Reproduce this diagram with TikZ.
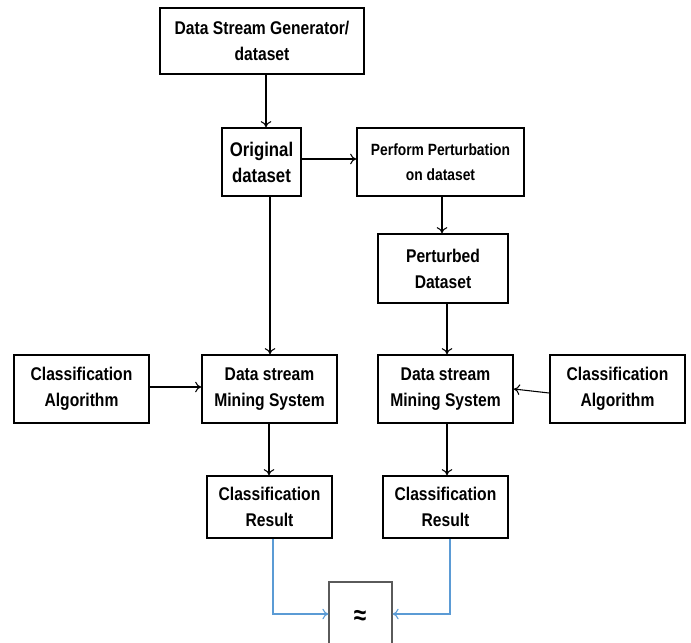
\documentclass[tikz,border=0pt]{standalone}
\usepackage{fontspec}
\setmainfont{Liberation Sans}[FakeStretch=0.85]
\usetikzlibrary{arrows.meta}
\definecolor{linkblue}{RGB}{91,155,213}
\definecolor{boxgray}{RGB}{90,90,90}
\tikzset{
  box/.style={draw=black, line width=1.3pt, fill=white, inner sep=0pt, align=center,
    font=\fontsize{13.8}{19.5}\selectfont\bfseries},
  arr/.style={draw=black, line width=0.8pt, -{To[length=4.5pt,width=8pt]}},
  bluearr/.style={draw=linkblue, line width=0.8pt, -{To[length=4.5pt,width=8pt]}},
}
\begin{document}
\begin{tikzpicture}[x=0.75pt,y=-0.75pt]
\useasboundingbox (0,0) rectangle (691,642);
\clip (0,0) rectangle (691,642);
\fill[white] (0,0) rectangle (691,642);
% boxes
\node[box, minimum width=204*0.75pt, minimum height=66*0.75pt] (gen) at (262,41) {Data Stream Generator/\\dataset};
\node[box, minimum width=79*0.75pt, minimum height=68*0.75pt, font=\fontsize{14.8}{19.5}\selectfont\bfseries] (orig) at (261.5,162) {Original\\dataset};
\node[box, minimum width=167*0.75pt, minimum height=68*0.75pt, font=\fontsize{12.2}{19}\selectfont\bfseries] (perf) at (440.5,162) {Perform Perturbation\\on dataset};
\node[box, minimum width=130*0.75pt, minimum height=69*0.75pt] (pert) at (443,268.5) {Perturbed\\Dataset};
\node[box, minimum width=135*0.75pt, minimum height=68*0.75pt] (ca1) at (81.5,389) {Classification\\Algorithm};
\node[box, minimum width=135*0.75pt, minimum height=68*0.75pt] (ds1) at (269.5,389) {Data stream\\Mining System};
\node[box, minimum width=135*0.75pt, minimum height=68*0.75pt] (ds2) at (445.5,389) {Data stream\\Mining System};
\node[box, minimum width=135*0.75pt, minimum height=68*0.75pt] (ca2) at (617.5,389) {Classification\\Algorithm};
\node[box, minimum width=125*0.75pt, minimum height=62*0.75pt] (res1) at (269.5,507) {Classification\\Result};
\node[box, minimum width=125*0.75pt, minimum height=62*0.75pt] (res2) at (445.5,507) {Classification\\Result};
\node[draw=boxgray, line width=0.9pt, fill=white, inner sep=0pt, minimum width=63*0.75pt, minimum height=80*0.75pt] (apx) at (360.5,622) {};
\node[inner sep=0pt, font=\fontsize{20}{20}\selectfont\bfseries] (apxsym) at (360,617) {≈};
% connectors
\draw[arr] (gen.south -| 266,0) -- (orig.north -| 266,0);
\draw[arr] (orig.east |- 0,159) -- (perf.west |- 0,159);
\draw[arr] (perf.south -| 442,0) -- (pert.north -| 442,0);
\draw[arr] (orig.south -| 270,0) -- (ds1.north -| 270,0);
\draw[arr] (pert.south -| 447,0) -- (ds2.north -| 447,0);
\draw[arr] (ca1.east |- 0,387) -- (ds1.west |- 0,387);
\draw[arr] (ca2.west |- 0,393) -- (ds2.east |- 0,389);
\draw[arr] (ds1.south -| 269,0) -- (res1.north -| 269,0);
\draw[arr] (ds2.south -| 447,0) -- (res2.north -| 447,0);
\draw[bluearr] (res1.south -| 273,0) |- (apx.west |- 0,614);
\draw[bluearr] (res2.south -| 450,0) |- (apx.east |- 0,614);
\end{tikzpicture}
\end{document}
